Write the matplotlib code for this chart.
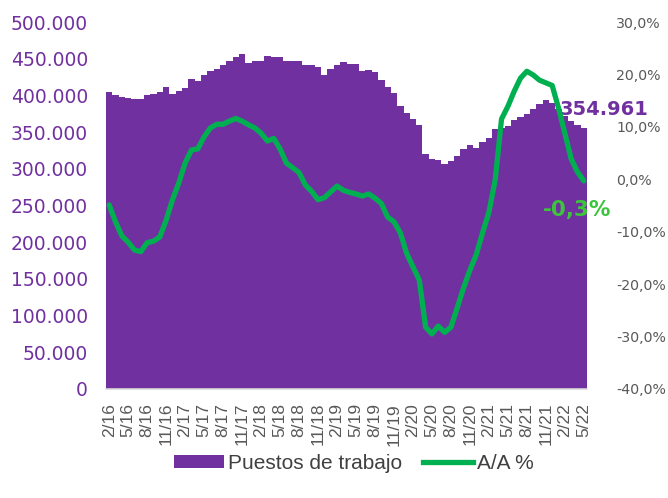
import matplotlib
matplotlib.use("Agg")
import matplotlib.pyplot as plt
from matplotlib.patches import Patch
from matplotlib.lines import Line2D
import numpy as np

# ---- data (monthly, 2/16 .. 5/22) ----
puestos = [405000, 401000, 398000, 397000, 395000, 395000, 400000, 402000, 405000, 411000,
           402000, 406000, 410000, 422000, 420000, 428000, 433000, 436000, 441000, 447000,
           453000, 457000, 444000, 447000, 447000, 454000, 453000, 453000, 447000, 447000,
           447000, 441000, 442000, 439000, 428000, 436000, 441000, 445000, 443000, 443000,
           433000, 435000, 432000, 421000, 411000, 403000, 385000, 376000, 368000, 359000,
           320000, 313000, 312000, 307000, 311000, 317000, 327000, 333000, 329000, 336000,
           342000, 354000, 355000, 358000, 366000, 370000, 375000, 382000, 388000, 394000,
           389000, 382000, 372000, 365000, 360000, 354961]

variacion_aa = [-4.9, -8.1, -10.8, -12.0, -13.5, -13.8, -12.1, -11.8, -11.0, -7.8,
                -3.9, -0.7, 3.1, 5.6, 5.8, 8.1, 9.8, 10.5, 10.5, 11.1,
                11.6, 11.1, 10.4, 9.8, 8.8, 7.3, 7.8, 5.8, 3.1, 2.2,
                1.3, -1.1, -2.3, -3.9, -3.5, -2.4, -1.3, -2.1, -2.5, -2.8,
                -3.2, -2.8, -3.6, -4.6, -7.2, -8.1, -10.2, -14.1, -16.7, -19.2,
                -28.2, -29.5, -28.0, -29.2, -28.2, -24.5, -20.7, -17.3, -14.4, -10.2,
                -6.3, -0.1, 11.5, 13.9, 16.8, 19.3, 20.6, 19.9, 18.9, 18.4,
                17.9, 13.6, 8.8, 3.9, 1.4, -0.3]

tick_labels = ['2/16', '5/16', '8/16', '11/16', '2/17', '5/17', '8/17', '11/17',
               '2/18', '5/18', '8/18', '11/18', '2/19', '5/19', '8/19', '11/19',
               '2/20', '5/20', '8/20', '11/20', '2/21', '5/21', '8/21', '11/21',
               '2/22', '5/22']

left_ticks = list(range(0, 500001, 50000))
right_ticks = list(range(-40, 31, 10))

PURPLE = '#7030a0'
GREEN = '#00b050'
GREEN_LABEL = '#3cc43c'
GRAY = '#595959'

fig = plt.figure(figsize=(6.68, 4.98), dpi=100)
ax = fig.add_axes([0.1587, 0.2189, 0.7200, 0.7369])

x = np.arange(len(puestos))
ax.bar(x, puestos, width=1.02, color=PURPLE, linewidth=0, zorder=2)
ax.set_xlim(-0.5, len(puestos) - 0.5)
ax.set_ylim(0, 500000)
ax.set_yticks(left_ticks)
ax.set_yticklabels([f"{v:,.0f}".replace(',', '.') for v in left_ticks],
                   color=PURPLE, fontsize=13.5, family='DejaVu Sans')
ax.tick_params(axis='y', length=0, pad=13)

tick_pos = x[::3]
ax.set_xticks(tick_pos)
ax.set_xticklabels(tick_labels, rotation=90, fontsize=12.5, color=GRAY,
                   family='Liberation Sans', va='top')
ax.tick_params(axis='x', length=0, pad=10)

for s in ['top', 'right', 'left']:
    ax.spines[s].set_visible(False)
ax.spines['bottom'].set_color('#d9d9d9')
ax.spines['bottom'].set_linewidth(1.2)

ax2 = ax.twinx()
ax2.plot(x, variacion_aa, color=GREEN, lw=3.8, solid_joinstyle='round',
         solid_capstyle='round', zorder=3)
ax2.set_ylim(-40, 30)
ax2.set_yticks(right_ticks)
ax2.set_yticklabels([f"{v:.1f}%".replace('.', ',') for v in right_ticks],
                    color=GRAY, fontsize=10.2, family='DejaVu Sans')
ax2.tick_params(axis='y', length=0, pad=21)
for s in ax2.spines.values():
    s.set_visible(False)

last = len(puestos) - 1
ax.text(last - 3.8, puestos[-1] + 26000, f"{puestos[-1]:,.0f}".replace(',', '.'),
        color=PURPLE, fontsize=14, fontweight='bold', family='DejaVu Sans',
        va='center', ha='left', zorder=5)
ax2.text(last - 6.4, variacion_aa[-1] - 5.6, f"{variacion_aa[-1]:.1f}%".replace('.', ','),
         color=GREEN_LABEL, fontsize=15.5, fontweight='bold', family='DejaVu Sans',
         va='center', ha='left', zorder=5)

handles = [Patch(facecolor=PURPLE, edgecolor='none'),
           Line2D([0], [0], color=GREEN, lw=3.8)]
fig.legend(handles, ['Puestos de trabajo', 'A/A %'], loc='center',
           bbox_to_anchor=(0.53, 0.07), ncol=2, frameon=False,
           prop={'family': 'Liberation Sans', 'size': 15}, labelcolor='#404040',
           handlelength=2.4, handletextpad=0.2, columnspacing=1.0,
           handleheight=0.6)

fig.savefig('out.png', dpi=100)
